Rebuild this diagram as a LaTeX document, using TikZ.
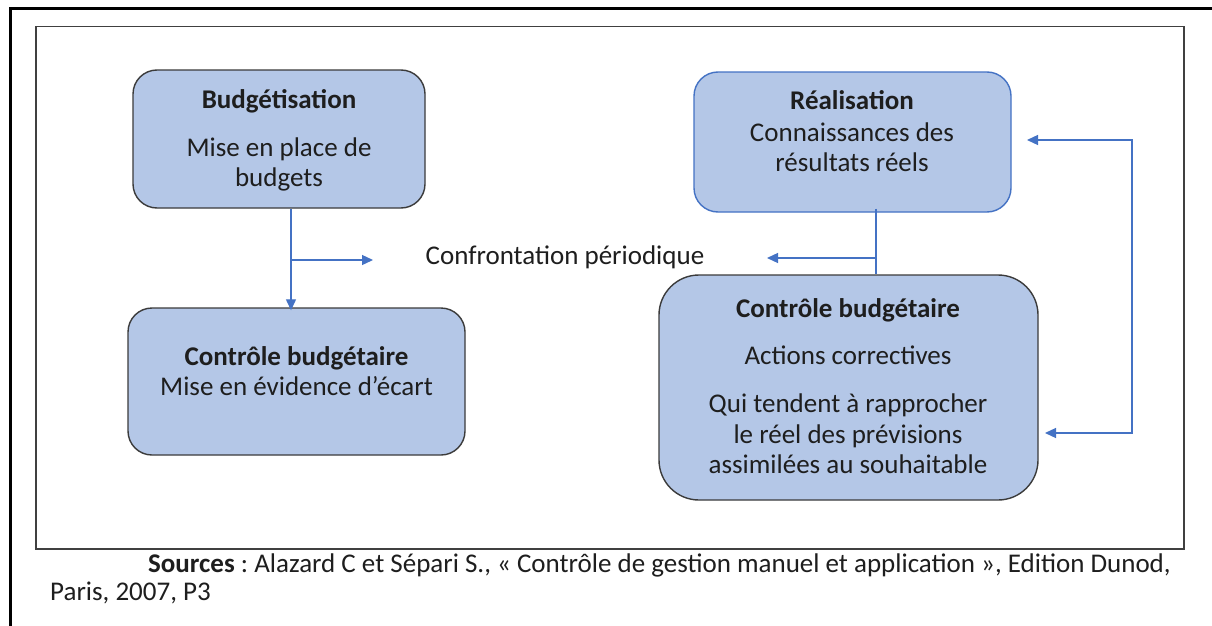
\documentclass[tikz,border=0pt]{standalone}
\usepackage{fontspec}
\setmainfont{Carlito}
\usetikzlibrary{arrows.meta}
\definecolor{boxfill}{HTML}{B4C7E7}
\definecolor{boxline}{HTML}{3B3B3B}
\definecolor{flow}{HTML}{4472C4}
\definecolor{ink}{HTML}{1E1E1E}
\definecolor{framegray}{HTML}{404040}
\frenchspacing
\begin{document}
\begin{tikzpicture}[x=1pt,y=-1pt,
  card/.style={draw=boxline, line width=1.4pt, fill=boxfill, rounded corners=24pt, inner sep=0pt},
  head/.style={anchor=base, font=\fontsize{27}{30}\selectfont\bfseries, text=ink, inner sep=0pt},
  body/.style={anchor=base, font=\fontsize{27}{30}\selectfont, text=ink, inner sep=0pt},
  note/.style={anchor=base west, font=\fontsize{27}{30}\selectfont, text=ink, inner sep=0pt},
  flowline/.style={draw=flow, line width=1.3pt},
  tip/.style={-{Triangle[length=11pt,width=10pt]}}
]
\useasboundingbox (0,0) rectangle (1212,626);
\fill[white] (0,0) rectangle (1212,626);

% page frame and figure frame
\draw[line width=3pt] (10.5,626) -- (10.5,8.5) -- (1212,8.5);
\draw[draw=framegray, line width=1.5pt] (36,26.5) rectangle (1184,549);

% boxes
\node[card, minimum width=292pt, minimum height=138pt] (budget) at (279,139) {};
\node[card, minimum width=337pt, minimum height=147pt] (ecart) at (296.5,381.5) {};
\node[card, draw=flow, minimum width=317pt, minimum height=140pt] (real) at (852.5,142) {};
\node[card, rounded corners=40pt, minimum width=379pt, minimum height=225pt] (action) at (848.5,387.5) {};

% box texts
\node[head] (budgetT) at (279,108) {Budgétisation};
\node[body] (budgetA) at (279,156) {Mise en place de};
\node[body] (budgetB) at (279,186) {budgets};

\node[head] (ecartT) at (296.5,365) {Contrôle budgétaire};
\node[body] (ecartA) at (296.5,395) {Mise en évidence d’écart};

\node[head] (realT) at (852,109) {Réalisation};
\node[body] (realA) at (852,141) {Connaissances des};
\node[body] (realB) at (852,171) {résultats réels};

\node[head] (actionT) at (848,317) {Contrôle budgétaire};
\node[body] (actionA) at (848,364) {Actions correctives};
\node[body] (actionB) at (848,412) {Qui tendent à rapprocher};
\node[body] (actionC) at (848,443) {le réel des prévisions};
\node[body] (actionD) at (848,473) {assimilées au souhaitable};

\node[body] (confront) at (565,264) {Confrontation périodique};

% connectors on the left
\coordinate (lx) at (291,0);
\coordinate (lbranch) at (291,260);
\coordinate (lend) at (373,260);
\draw[flowline, tip] (budget.south -| lx) -- ([yshift=-3pt]ecart.north -| lx);
\draw[flowline, tip] (lbranch) -- (lend);

% connectors on the right
\coordinate (rx) at (876,0);
\coordinate (rbranch) at (876,258);
\coordinate (rend) at (767,258);
\draw[flowline] ([yshift=4pt]real.south -| rx) -- (action.north -| rx);
\draw[flowline, tip] (rbranch) -- (rend);

% feedback loop
\coordinate (loopTop) at (1132,140);
\coordinate (loopBot) at (1132,433);
\coordinate (toReal) at (1027,140);
\coordinate (toAction) at (1045,433);
\draw[flowline, {Triangle[length=11pt,width=10pt]}-{Triangle[length=11pt,width=10pt]}]
  (toReal) -- (loopTop) -- (loopBot) -- (toAction);

% source
\node[note] (src1) at (148,572) {\textbf{Sources} : Alazard C et Sépari S., « Contrôle de gestion manuel et application », Edition Dunod,};
\node[note] (src2) at (50,600) {Paris, 2007, P3};
\end{tikzpicture}
\end{document}
